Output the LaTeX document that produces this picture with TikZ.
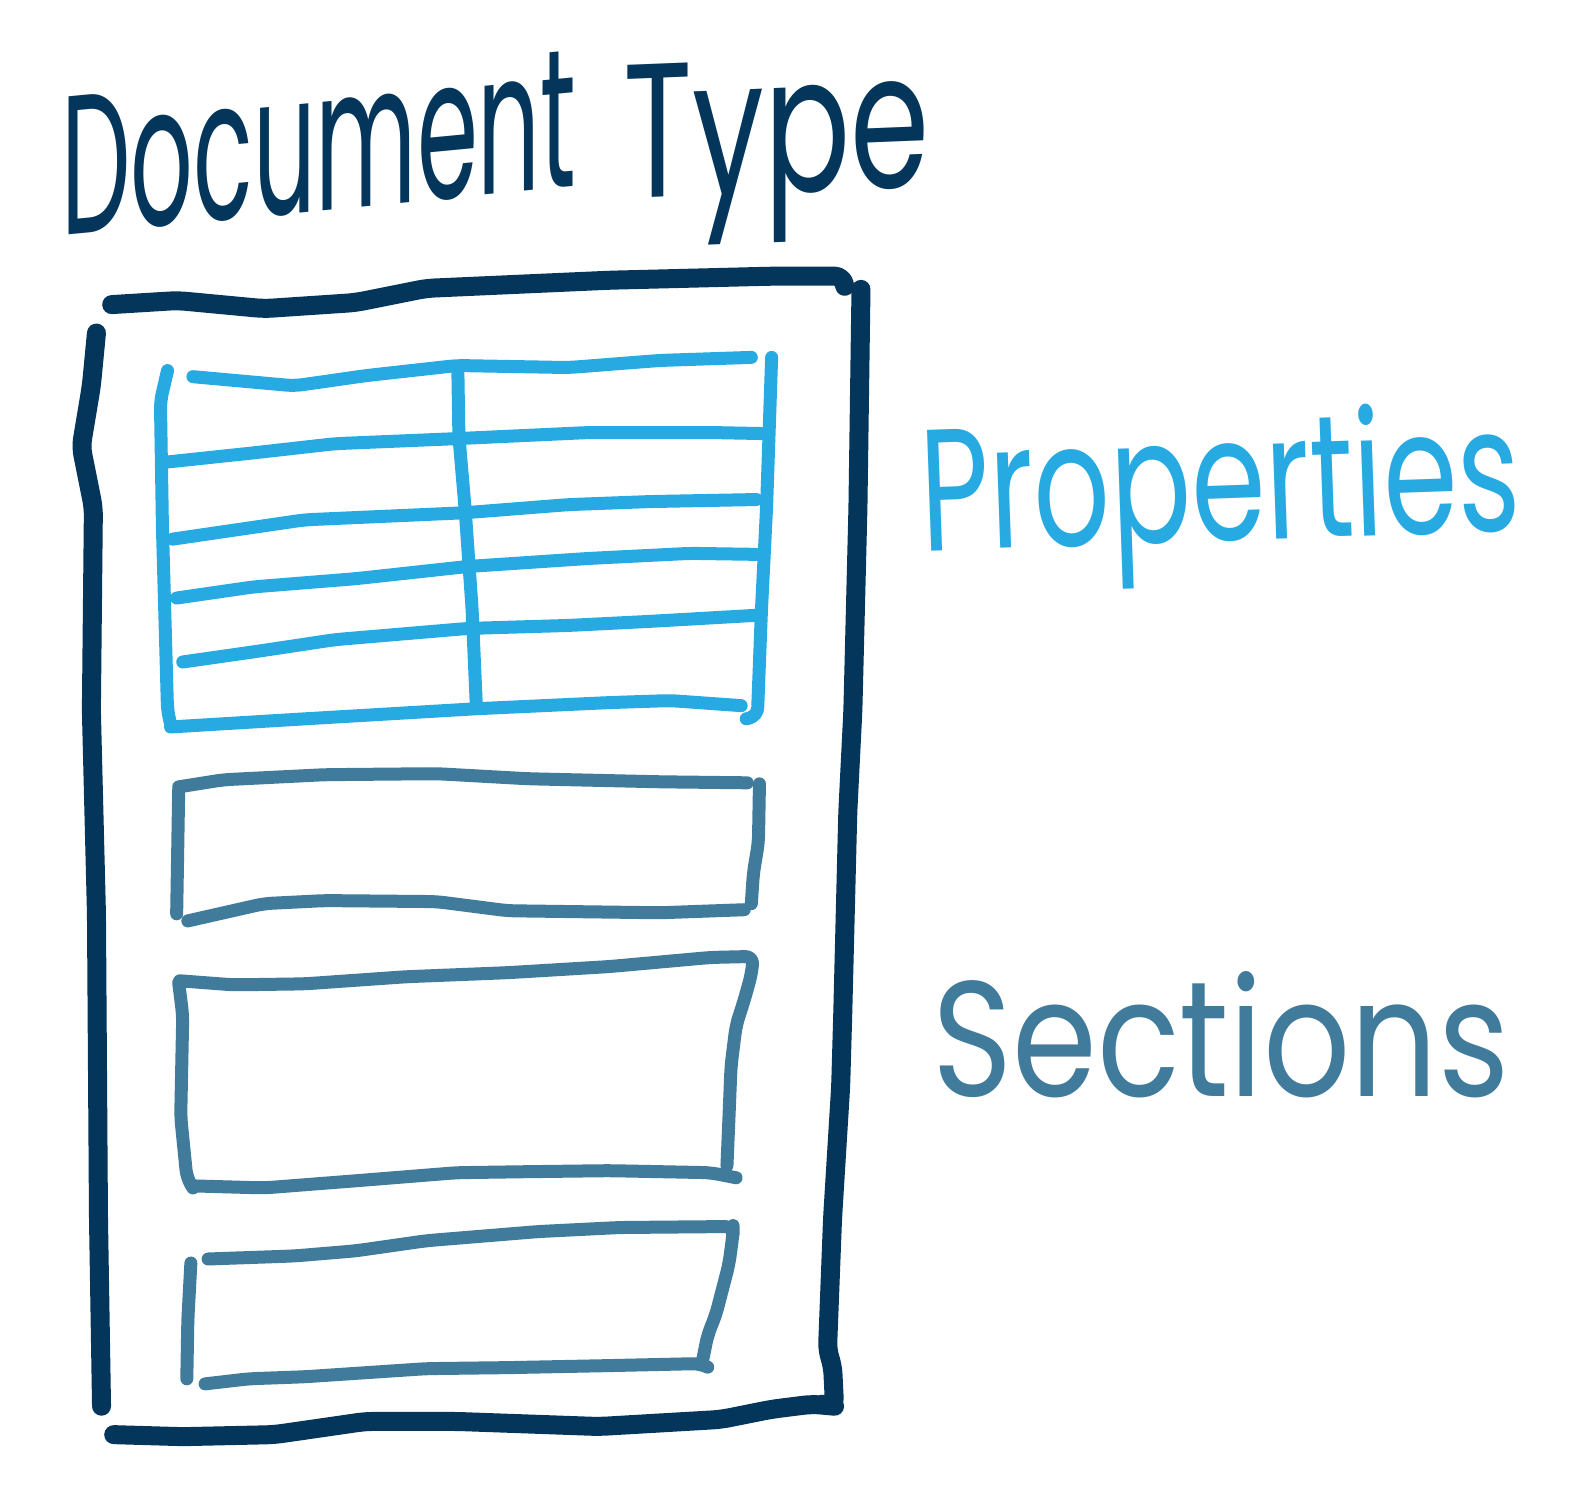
\documentclass[tikz,border=0pt]{standalone}
\usepackage{fontspec}
\newfontfamily\hand{Poppins}
\definecolor{navy}{RGB}{4,53,90}
\definecolor{sky}{RGB}{39,170,225}
\definecolor{steel}{RGB}{65,123,155}
\begin{document}
\begin{tikzpicture}[x=1.0153pt,y=-1.0153pt,
  pen/.style={line cap=round,line join=round,rounded corners=8pt},
  outer/.style={pen,draw=navy,line width=19pt},
  prop/.style={pen,draw=sky,line width=13pt},
  sect/.style={pen,draw=steel,line width=13pt},
  label/.style={inner sep=0pt,font=\hand}]
\useasboundingbox (0,0) rectangle (1568,1473);
% title
\begin{scope}[shift={(60,232)},yslant=0.095,transform shape]
\node[label,text=navy,anchor=base west] (doc) at (0,0) {\resizebox{515pt}{138pt}{Document}};
\end{scope}
\begin{scope}[shift={(614,196)},yslant=0.04,transform shape]
\node[label,text=navy,anchor=base west] (type) at (0,0) {\resizebox{306pt}{133pt}{Type}};
\end{scope}
% outer box
\draw[outer] (110,300) -- (175,296) -- (260,304) -- (350,298) -- (420,284) -- (600,276) -- (760,272) -- (830,272) -- (832,282);
\draw[outer] (95,328) -- (90,380) -- (80,440) -- (92,500) -- (90,700) -- (95,900) -- (97,1200) -- (100,1385);
\draw[outer] (848,285) -- (845,500) -- (840,700) -- (835,800) -- (830,1000) -- (828,1070) -- (820,1200) -- (815,1330) -- (820,1345) -- (822,1385) -- (810,1383);
\draw[outer] (112,1413) -- (180,1415) -- (270,1413) -- (360,1400) -- (450,1400) -- (590,1405) -- (710,1398) -- (760,1388) -- (800,1383) -- (822,1385);
% properties table
\draw[prop] (190,371) -- (290,380) -- (360,370) -- (450,360) -- (560,362) -- (650,355) -- (740,352);
\draw[prop] (165,365) -- (158,395) -- (160,520) -- (165,700) -- (168,713);
\draw[prop] (760,352) -- (755,500) -- (750,600) -- (746,705) -- (735,708);
\draw[prop] (168,716) -- (300,708) -- (470,698) -- (600,692) -- (660,690) -- (730,695);
\draw[prop] (451,368) -- (452,430) -- (458,500) -- (465,600) -- (469,692);
\draw[prop] (165,455) -- (250,446) -- (330,437) -- (450,432) -- (580,426) -- (700,426) -- (750,427);
\draw[prop] (170,531) -- (300,512) -- (458,505) -- (560,497) -- (640,494) -- (745,492);
\draw[prop] (174,589) -- (250,578) -- (350,570) -- (460,558) -- (580,550) -- (680,545) -- (745,546);
\draw[prop] (180,652) -- (250,642) -- (330,630) -- (460,619) -- (560,616) -- (640,612) -- (745,606);
\node[label,text=sky,anchor=base west,rotate=2] (props) at (908,543) {\resizebox{600pt}{132pt}{Properties}};
% sections
\draw[sect] (176,775) -- (220,768) -- (320,763) -- (430,762) -- (520,767) -- (650,770) -- (736,771);
\draw[sect] (176,778) -- (174,900);
\draw[sect] (748,772) -- (747,830) -- (742,860) -- (740,890);
\draw[sect] (185,907) -- (260,890) -- (320,887) -- (430,888) -- (500,897) -- (650,899) -- (733,896);
\draw[sect] (177,966) -- (230,970) -- (300,969) -- (400,962) -- (500,958) -- (600,952) -- (700,943) -- (742,942) -- (740,960) -- (733,985) -- (725,1010) -- (720,1050) -- (718,1100) -- (716,1148);
\draw[sect] (176,968) -- (180,1000) -- (178,1100) -- (184,1160) -- (190,1170);
\draw[sect] (190,1168) -- (260,1170) -- (350,1163) -- (450,1155) -- (520,1154) -- (600,1153) -- (700,1155) -- (725,1160);
\draw[sect] (205,1240) -- (290,1237) -- (350,1232) -- (420,1222) -- (530,1213) -- (610,1209) -- (722,1208) -- (722,1215) -- (718,1245) -- (705,1295) -- (697,1315) -- (692,1340);
\draw[sect] (188,1244) -- (185,1300) -- (184,1358);
\draw[sect] (202,1363) -- (245,1358) -- (300,1356) -- (420,1348) -- (500,1347) -- (600,1345) -- (690,1343) -- (694,1345);
\node[label,text=steel,anchor=base west] (sections) at (918,1080) {\resizebox{577pt}{125pt}{Sections}};
\end{tikzpicture}
\end{document}
